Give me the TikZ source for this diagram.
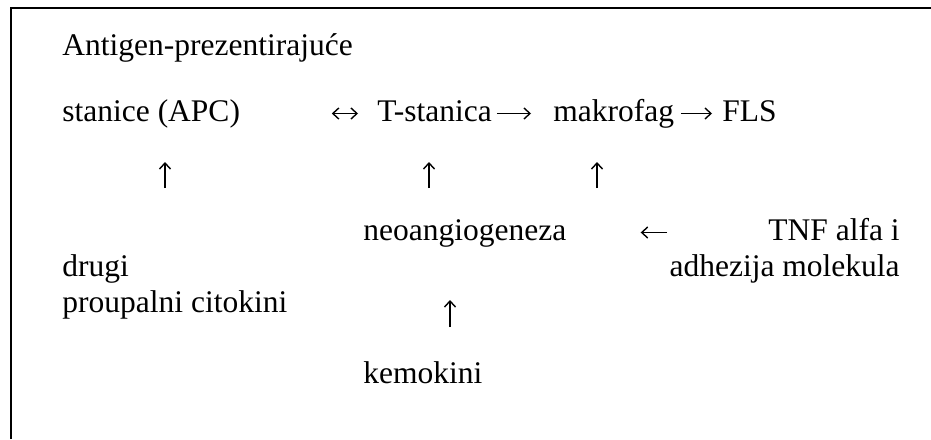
\documentclass[tikz,border=0pt]{standalone}
\usepackage{fontspec}
\setmainfont{Liberation Serif}
\usetikzlibrary{arrows.meta}
\tikzset{
  lbl/.style={inner sep=0pt, anchor=base west, text height=11pt, text depth=3.5pt},
  lblr/.style={lbl, anchor=base east},
  arr/.style={-{Straight Barb[length=3pt,width=5.5pt]}, line width=0.7pt},
  arrlr/.style={{Straight Barb[length=3pt,width=5.5pt]}-{Straight Barb[length=3pt,width=5.5pt]}, line width=0.7pt},
}
\begin{document}
\begin{tikzpicture}[x=0.5pt, y=-0.5pt, font=\fontsize{15.75}{18}\selectfont]
\useasboundingbox (0,0) rectangle (931,439);
% frame, cut off on the right and at the bottom
\draw[line width=0.75pt] (11,439) -- (11,8) -- (931,8);
% top rows
\node[lbl] (apctop) at (62,55) {Antigen-prezentirajuće};
\node[lbl] (apc) at (62,121) {stanice (APC)};
\node[lbl] (tcell) at (377,121) {T-stanica};
\node[lbl] (mac) at (553,121) {makrofag};
\node[lbl] (fls) at (722,121) {FLS};
\draw[arrlr, shorten <=45.7pt, shorten >=9.5pt] (apc) -- (tcell);
\draw[arr, shorten <=2.4pt, shorten >=11pt] (tcell) -- (mac);
\draw[arr, shorten <=3.2pt, shorten >=5pt] (mac) -- (fls);
% up arrows
\coordinate (u1a) at (165,188); \coordinate (u1b) at (165,162);
\coordinate (u2a) at (429,188); \coordinate (u2b) at (429,162);
\coordinate (u3a) at (597,188); \coordinate (u3b) at (597,162);
\draw[arr] (u1a) -- (u1b);
\draw[arr] (u2a) -- (u2b);
\draw[arr] (u3a) -- (u3b);
% lower rows
\node[lbl] (neo) at (363,240) {neoangiogeneza};
\node[lblr] (tnf) at (900,240) {TNF alfa i};
\node[lblr] (adh) at (900,276) {adhezija molekula};
\node[lbl] (drugi) at (62,276) {drugi};
\node[lbl] (cito) at (62,312) {proupalni citokini};
\node[lbl] (kemo) at (363,383) {kemokini};
\draw[arr, shorten <=50.4pt, shorten >=37pt] (tnf) -- (neo);
\coordinate (u4a) at (450,327); \coordinate (u4b) at (450,300);
\draw[arr] (u4a) -- (u4b);
\end{tikzpicture}
\end{document}
